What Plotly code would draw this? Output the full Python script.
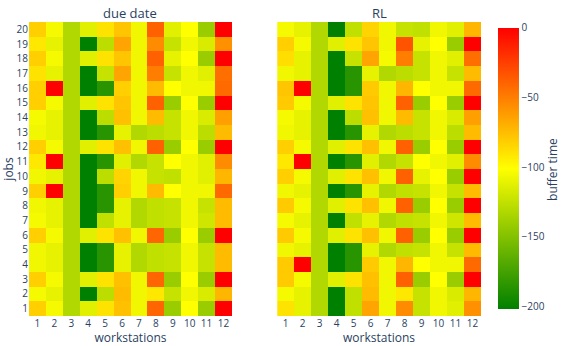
import plotly.graph_objects as go

workstations = list(range(1, 13))
jobs = list(range(1, 21))

# buffer time per job (row, job 1 first) and workstation (column)
due_date = [
    [-82, -105, -132, -113, -90, -76, -107, -40, -141, -101, -141, 0],
    [-105, -111, -132, -202, -128, -74, -107, -92, -124, -107, -116, -72],
    [-82, -105, -132, -113, -90, -76, -107, -40, -141, -101, -141, 0],
    [-107, -111, -132, -202, -186, -111, -132, -126, -124, -107, -124, -74],
    [-107, -111, -132, -202, -186, -111, -132, -126, -124, -107, -124, -74],
    [-82, -105, -132, -113, -90, -76, -107, -40, -141, -101, -141, 0],
    [-105, -111, -132, -202, -126, -111, -132, -126, -124, -107, -120, -74],
    [-107, -111, -132, -202, -186, -111, -132, -126, -124, -107, -124, -74],
    [-82, 0, -132, -202, -186, -82, -107, -74, -101, -107, -107, -42],
    [-107, -111, -132, -202, -128, -84, -107, -124, -126, -107, -113, -72],
    [-92, 0, -132, -202, -186, -113, -132, -124, -101, -107, -113, -55],
    [-82, -105, -132, -113, -90, -76, -107, -38, -141, -101, -141, 0],
    [-107, -111, -132, -202, -186, -111, -132, -128, -124, -107, -128, -74],
    [-105, -111, -132, -202, -128, -76, -107, -74, -124, -107, -116, -63],
    [-82, -105, -132, -113, -90, -78, -107, -38, -141, -101, -141, 0],
    [-82, 0, -132, -202, -186, -82, -107, -74, -101, -107, -107, -42],
    [-90, -111, -132, -202, -124, -65, -107, -50, -124, -107, -113, -44],
    [-82, -105, -132, -113, -90, -78, -107, -38, -111, -101, -141, 0],
    [-92, -111, -132, -202, -128, -65, -107, -55, -124, -107, -116, -57],
    [-82, -105, -132, -113, -90, -78, -107, -38, -113, -101, -141, 0],
]

rl = [
    [-90, -111, -132, -202, -126, -65, -107, -55, -124, -107, -113, -57],
    [-105, -111, -132, -202, -126, -74, -107, -92, -124, -107, -116, -72],
    [-80, -105, -132, -113, -90, -76, -107, -38, -141, -101, -141, 0],
    [-80, 0, -132, -202, -186, -80, -107, -72, -101, -107, -107, -42],
    [-107, -111, -132, -202, -186, -111, -132, -126, -124, -107, -124, -74],
    [-80, -105, -132, -113, -90, -76, -107, -38, -141, -101, -141, 0],
    [-105, -111, -132, -202, -126, -111, -132, -126, -124, -107, -120, -74],
    [-80, -105, -132, -113, -90, -76, -107, -38, -141, -101, -141, 0],
    [-107, -111, -132, -202, -186, -111, -132, -126, -124, -107, -124, -74],
    [-82, -105, -132, -113, -90, -76, -107, -38, -111, -101, -141, 0],
    [-92, 0, -132, -202, -186, -113, -132, -124, -101, -107, -113, -55],
    [-82, -105, -132, -113, -90, -76, -107, -38, -141, -101, -141, 0],
    [-107, -111, -132, -202, -186, -111, -132, -128, -124, -107, -128, -74],
    [-105, -111, -132, -202, -128, -76, -107, -74, -124, -107, -116, -63],
    [-80, -105, -132, -113, -90, -78, -107, -38, -141, -101, -141, 0],
    [-78, 0, -132, -202, -186, -80, -107, -72, -101, -107, -107, -42],
    [-107, -111, -132, -202, -186, -111, -132, -128, -124, -107, -124, -74],
    [-88, -111, -132, -202, -124, -65, -105, -50, -124, -107, -113, -44],
    [-82, -105, -132, -113, -90, -78, -107, -33, -111, -101, -141, 0],
    [-105, -111, -132, -202, -126, -84, -107, -124, -126, -107, -113, -72],
]

colorscale = [[0.0, "rgb(0,128,0)"], [0.5, "rgb(255,255,0)"], [1.0, "rgb(255,0,0)"]]
zmin, zmax = -202, 0
font_color = "#2a3f5f"

fig = go.Figure()
fig.add_trace(go.Heatmap(
    z=due_date, x=workstations, y=jobs, xaxis="x", yaxis="y",
    colorscale=colorscale, zmin=zmin, zmax=zmax, showscale=False,
))
fig.add_trace(go.Heatmap(
    z=rl, x=workstations, y=jobs, xaxis="x2", yaxis="y2",
    colorscale=colorscale, zmin=zmin, zmax=zmax, showscale=True,
    colorbar=dict(
        thickness=21, thicknessmode="pixels",
        len=281, lenmode="pixels",
        x=1.0376, xanchor="left", xpad=0,
        y=0.502, yanchor="middle", ypad=0,
        outlinewidth=0,
        tickvals=[0, -50, -100, -150, -200],
        tickfont=dict(size=10, color=font_color),
    ),
))

axis_font = dict(size=10, color=font_color)
xtitle = dict(text="workstations", font=dict(size=12), standoff=9)
fig.update_layout(
    width=565, height=346,
    margin=dict(l=29, r=84, t=22, b=30),
    paper_bgcolor="white", plot_bgcolor="white",
    font=dict(family="Open Sans", color=font_color),
    xaxis=dict(domain=[0, 0.449], tickvals=workstations, tickfont=axis_font, automargin=False,
               title=xtitle, showgrid=False, zeroline=False),
    xaxis2=dict(domain=[0.549, 1], tickvals=workstations, tickfont=axis_font, automargin=False,
                title=xtitle, showgrid=False, zeroline=False),
    yaxis=dict(tickvals=jobs, tickfont=axis_font, automargin=False,
               title=dict(text="jobs", font=dict(size=12), standoff=3),
               showgrid=False, zeroline=False),
    yaxis2=dict(anchor="x2", matches="y", showticklabels=False, showgrid=False, zeroline=False,
                automargin=False),
    annotations=[
        dict(text="due date", x=0.2245, y=1.0, xref="paper", yref="paper", yshift=-2,
             xanchor="center", yanchor="bottom", showarrow=False, font=dict(size=13)),
        dict(text="RL", x=0.7745, y=1.0, xref="paper", yref="paper", yshift=-2,
             xanchor="center", yanchor="bottom", showarrow=False, font=dict(size=13)),
        dict(text="buffer time", x=1.157, y=0.5, xref="paper", yref="paper", textangle=-90,
             xanchor="center", yanchor="middle", showarrow=False, font=dict(size=12)),
    ],
)

fig.write_html("out.html", config={"displayModeBar": False},
               post_script="document.body.style.margin='0';")
